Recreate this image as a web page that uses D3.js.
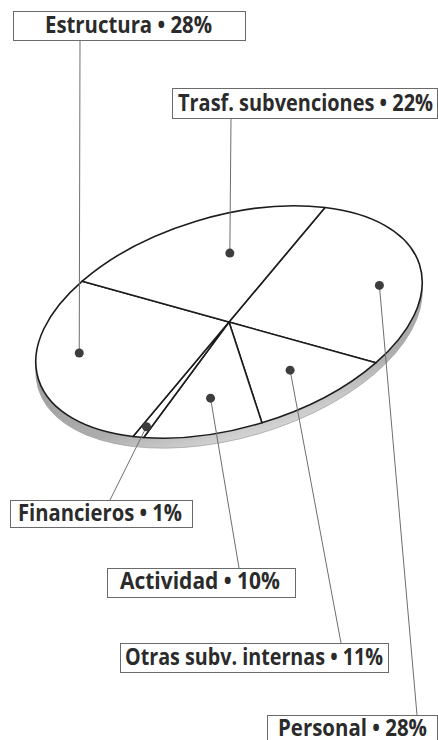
<!DOCTYPE html>
<html>
<head>
<meta charset="utf-8">
<script src="https://cdn.jsdelivr.net/npm/d3@7"></script>
<style>
  body { margin: 0; background: #fff; }
  svg { display: block; }
</style>
</head>
<body>
<script>
// slices, clockwise starting from the upper-right boundary of the disc
const categories = ["Personal", "Otras subv. internas", "Actividad", "Financieros", "Estructura", "Trasf. subvenciones"];
const values = [28, 11, 10, 1, 28, 22];

// label placement (box x, y, w, h / text x, width, baseline / leader end x / anchor radius + angle shift)
const labelLayout = [
    { box: [267, 715, 170, 30], text: [278, 149, 736], lx: 417, side: "top", frac: 0.78, shift: 6 },
    { box: [120, 643, 268, 29], text: [125, 258, 665], lx: 341, side: "top", frac: 0.64, shift: 0 },
    { box: [107, 568, 188, 29], text: [120, 160, 589], lx: 239, side: "top", frac: 0.67, shift: 0 },
    { box: [10, 500, 182, 27], text: [18, 164, 521], lx: 110, side: "top", frac: 0.91, shift: 0 },
    { box: [13, 11, 232, 29], text: [45, 167, 33], lx: 80, side: "bottom", frac: 0.775, shift: 9.7 },
    { box: [172, 88, 265, 30], text: [178, 255, 111], lx: 231, side: "bottom", frac: 0.63, shift: 10.2 }
];

const width = 438, height = 740;
const cx = 229, cy = 322;      // disc centre
const rx = 199, ry = 106;      // semi axes of the tilted disc
const tilt = -16.4;            // degrees
const depth = 10;              // thickness of the rim
const startAngle = 38.7 * Math.PI / 180;

const svg = d3.select("body").append("svg")
    .attr("width", width)
    .attr("height", height);

const defs = svg.append("defs");
const grad = defs.append("linearGradient")
    .attr("id", "rim")
    .attr("x1", 0).attr("y1", 0).attr("x2", 0).attr("y2", 1);
grad.append("stop").attr("offset", "0%").attr("stop-color", "#8e8e8e");
grad.append("stop").attr("offset", "80%").attr("stop-color", "#acacac");
grad.append("stop").attr("offset", "100%").attr("stop-color", "#d4d4d4");

const pie = d3.pie()
    .sort(null)
    .value(d => d)
    .startAngle(startAngle)
    .endAngle(startAngle + 2 * Math.PI);
const arcs = pie(values);

const arc = d3.arc().innerRadius(0).outerRadius(rx);

// map an angle (d3 convention) and radius fraction to the page
function project(angle, frac) {
    let lx = rx * frac * Math.sin(angle);
    let ly = -ry * frac * Math.cos(angle);
    let t = tilt * Math.PI / 180;
    return [cx + lx * Math.cos(t) - ly * Math.sin(t), cy + lx * Math.sin(t) + ly * Math.cos(t)];
}

// rim of the disc
svg.append("g")
    .attr("transform", "translate(" + cx + "," + (cy + depth) + ") rotate(" + tilt + ") scale(1," + (ry / rx) + ")")
    .append("path")
    .attr("d", arc({ startAngle: 0, endAngle: 2 * Math.PI }))
    .attr("fill", "url(#rim)")
    .attr("stroke", "#a5a5a5")
    .attr("stroke-width", 0.8)
    .attr("vector-effect", "non-scaling-stroke");

// top face
svg.append("g")
    .attr("transform", "translate(" + cx + "," + cy + ") rotate(" + tilt + ") scale(1," + (ry / rx) + ")")
    .selectAll("path")
    .data(arcs)
    .enter().append("path")
    .attr("d", arc)
    .attr("fill", "#fff")
    .attr("stroke", "#1c1c1c")
    .attr("stroke-width", 1.6)
    .attr("stroke-linejoin", "round")
    .attr("vector-effect", "non-scaling-stroke");

// anchor points
const anchors = arcs.map(function (d, i) {
    let mid = (d.startAngle + d.endAngle) / 2 + labelLayout[i].shift * Math.PI / 180;
    return project(mid, labelLayout[i].frac);
});

// leader lines
svg.append("g").selectAll("line")
    .data(arcs)
    .enter().append("line")
    .attr("x1", (d, i) => anchors[i][0])
    .attr("y1", (d, i) => anchors[i][1])
    .attr("x2", (d, i) => labelLayout[i].lx)
    .attr("y2", function (d, i) {
        let b = labelLayout[i].box;
        return labelLayout[i].side === "top" ? b[1] : b[1] + b[3];
    })
    .attr("stroke", "#6e6e6e")
    .attr("stroke-width", 1);

svg.append("g").selectAll("circle")
    .data(arcs)
    .enter().append("circle")
    .attr("cx", (d, i) => anchors[i][0])
    .attr("cy", (d, i) => anchors[i][1])
    .attr("r", 4.5)
    .attr("fill", "#3d3d3d");

// label boxes
const lab = svg.append("g").selectAll("g")
    .data(arcs)
    .enter().append("g");

lab.append("rect")
    .attr("x", (d, i) => labelLayout[i].box[0] + 0.5)
    .attr("y", (d, i) => labelLayout[i].box[1] + 0.5)
    .attr("width", (d, i) => labelLayout[i].box[2])
    .attr("height", (d, i) => labelLayout[i].box[3])
    .attr("fill", "#fff")
    .attr("stroke", "#6a6a6a")
    .attr("stroke-width", 1);

lab.append("text")
    .attr("x", (d, i) => labelLayout[i].text[0])
    .attr("y", (d, i) => labelLayout[i].text[2])
    .attr("textLength", (d, i) => labelLayout[i].text[1])
    .attr("lengthAdjust", "spacingAndGlyphs")
    .attr("font-family", "'Open Sans', 'Noto Sans', sans-serif")
    .attr("font-weight", "bold")
    .attr("font-size", "23px")
    .attr("fill", "#2b2b2b")
    .text((d, i) => categories[i] + " \u2022 " + values[i] + "%");
</script>
</body>
</html>
